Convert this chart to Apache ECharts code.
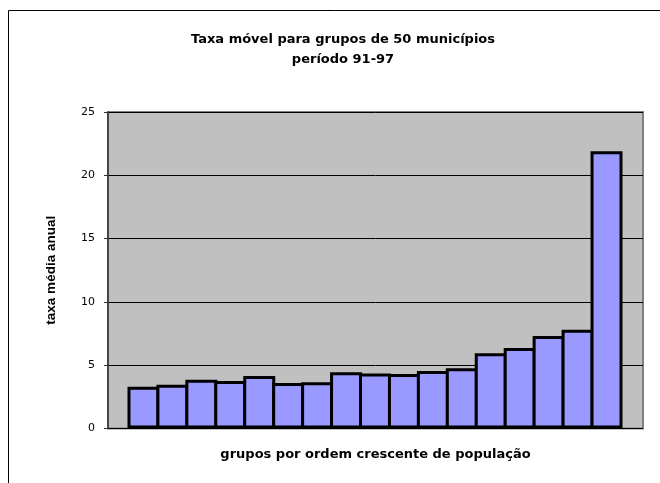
<!DOCTYPE html>
<html>
<head>
<meta charset="utf-8">
<script src="https://cdn.jsdelivr.net/npm/echarts@6/dist/echarts.min.js"></script>
<style>
  html, body { margin: 0; padding: 0; background: #fff; }
  #main { width: 660px; height: 483px; }
</style>
</head>
<body>
<div id="main"></div>
<script>
// grupos de 50 municípios, por ordem crescente de população
const groups = ['1', '2', '3', '4', '5', '6', '7', '8', '9', '10', '11', '12', '13', '14', '15', '16', '17']
// taxa média anual (%) 91-97
const rates = [3.3, 3.45, 3.85, 3.75, 4.15, 3.6, 3.65, 4.45, 4.35, 4.3, 4.55, 4.75, 5.95, 6.35, 7.3, 7.8, 21.9]
const yTicks = [0, 5, 10, 15, 20, 25]

const chart = echarts.init(document.getElementById('main'))

const option = {
  backgroundColor: '#fff',
  animation: false,
  title: {
    text: 'Taxa móvel para grupos de 50 municípios\nperíodo 91-97',
    left: 338,
    top: 25,
    textAlign: 'center',
    textStyle: {
      fontFamily: 'DejaVu Sans',
      fontWeight: 'bold',
      fontSize: 13,
      lineHeight: 20,
      color: '#000'
    }
  },
  graphic: [
    {
      // moldura do gráfico
      type: 'rect',
      shape: { x: 8.5, y: 10.5, width: 720, height: 520 },
      style: { fill: 'none', stroke: '#000', lineWidth: 1 },
      z: 100
    }
  ],
  grid: [
    // área de plotagem (fundo cinza)
    {
      left: 108,
      right: 17,
      top: 112,
      bottom: 54.5,
      show: true,
      backgroundColor: '#C0C0C0',
      borderColor: '#808080',
      borderWidth: 2
    },
    // barras
    {
      left: 129,
      right: 39,
      top: 112,
      bottom: 54.5
    }
  ],
  xAxis: [
    {
      gridIndex: 0,
      type: 'category',
      data: [''],
      axisLine: { show: false },
      axisTick: { show: false },
      axisLabel: { show: false },
      name: 'grupos por ordem crescente de população',
      nameLocation: 'middle',
      nameGap: 20,
      nameTextStyle: {
        fontFamily: 'DejaVu Sans',
        fontWeight: 'bold',
        fontSize: 13,
        color: '#000'
      }
    },
    {
      gridIndex: 1,
      type: 'category',
      data: groups,
      show: false
    }
  ],
  yAxis: [
    {
      gridIndex: 0,
      type: 'value',
      min: yTicks[0],
      max: yTicks[yTicks.length - 1],
      interval: 5,
      axisLine: { show: true, lineStyle: { color: '#333', width: 1.5 } },
      axisTick: { show: true, length: 4, lineStyle: { color: '#333' } },
      axisLabel: {
        margin: 13,
        fontFamily: 'DejaVu Sans',
        fontSize: 11,
        color: '#000'
      },
      splitLine: { show: true, lineStyle: { color: '#000', width: 1 } },
      name: 'taxa média anual',
      nameLocation: 'middle',
      nameGap: 50,
      nameTextStyle: {
        fontFamily: 'Liberation Sans',
        fontWeight: 'bold',
        fontSize: 13.5,
        color: '#000'
      }
    },
    {
      gridIndex: 1,
      type: 'value',
      min: yTicks[0],
      max: yTicks[yTicks.length - 1],
      show: false,
      splitLine: { show: false }
    }
  ],
  series: [
    {
      name: 'taxa média anual',
      type: 'bar',
      xAxisIndex: 1,
      yAxisIndex: 1,
      data: rates,
      barWidth: 32,
      barGap: '0%',
      itemStyle: {
        color: '#9999FF',
        borderColor: '#000',
        borderWidth: 3
      }
    }
  ]
}

chart.setOption(option)
</script>
</body>
</html>
